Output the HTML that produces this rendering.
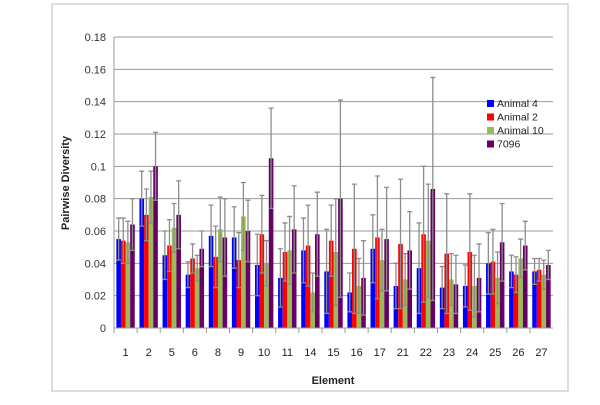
<!DOCTYPE html>
<html><head><meta charset="utf-8"><style>
body{margin:0;background:#fff;font-family:"Liberation Sans",sans-serif}
</style></head><body>
<svg id="chart" width="600" height="400" xmlns="http://www.w3.org/2000/svg">
<rect x="52" y="4" width="516" height="387" fill="#fff" stroke="#bbb"/>
<g id="grid"></g><g id="bars"></g><g id="errs"></g><g id="axes"></g>
<text transform="translate(69,183) rotate(-90)" text-anchor="middle" font-size="11" font-weight="bold" fill="#222">Pairwise Diversity</text>
<text x="333" y("") y="384" text-anchor="middle" font-size="11" font-weight="bold" fill="#222">Element</text>
<g id="legend"></g>
</svg>
<script>
const categories=["1","2","5","6","8","9","10","11","14","15","16","17","21","22","23","24","25","26","27"];
const seriesNames=["Animal 4","Animal 2","Animal 10","7096"];
const colors=["#0000ff","#ff0000","#9bbb59","#660066"];
const animal4=[.055,.080,.045,.033,.057,.056,.039,.031,.048,.035,.022,.049,.026,.037,.025,.026,.040,.035,.035];
const animal2=[.054,.070,.051,.043,.044,.042,.058,.047,.051,.054,.049,.056,.052,.058,.046,.047,.041,.033,.036];
const animal10=[.053,.081,.062,.037,.061,.069,.040,.048,.022,.047,.026,.042,.030,.054,.030,.026,.031,.043,.033];
const s7096=[.064,.100,.070,.049,.056,.060,.105,.061,.058,.080,.031,.055,.048,.086,.027,.031,.053,.051,.039];
const err4=[.013,.017,.015,.008,.019,.019,.019,.018,.020,.026,.012,.021,.014,.028,.013,.013,.019,.010,.008];
const err2=[.014,.016,.016,.009,.019,.017,.024,.018,.025,.022,.040,.038,.040,.042,.037,.036,.020,.011,.007];
const err10=[.013,.016,.015,.008,.020,.021,.014,.021,.012,.033,.017,.019,.016,.035,.016,.019,.016,.012,.009];
const err7096=[.016,.021,.021,.011,.024,.019,.031,.027,.026,.061,.023,.032,.024,.069,.018,.021,.024,.015,.009];
const yTicks=[0,0.02,0.04,0.06,0.08,0.1,0.12,0.14,0.16,0.18];
const yTickLabels=["0","0.02","0.04","0.06","0.08","0.1","0.12","0.14","0.16","0.18"];
const series=[animal4,animal2,animal10,s7096], errs=[err4,err2,err10,err7096];
const X0=114,X1=553,Y0=328,Y1=37,YMAX=0.18;
const gw=(X1-X0)/categories.length;
const y=v=>Y0-(v/YMAX)*(Y0-Y1);
const NS="http://www.w3.org/2000/svg";
function mk(parent,tag,attrs){const e=document.createElementNS(NS,tag);for(const k in attrs)e.setAttribute(k,attrs[k]);document.getElementById(parent).appendChild(e);return e;}
yTicks.forEach((t,i)=>{
  if(i>0){const g=mk('grid','line',{x1:X0,x2:X1,y1:y(t),y2:y(t),stroke:'#999','stroke-width':1});
  
  }
  const l=mk('axes','text',{x:X0-8,y:y(t)+4,'text-anchor':'end','font-size':11,fill:'#333'});
  l.textContent=yTickLabels[i];
  
  
});
const bw=4.6;
categories.forEach((c,ci)=>{
  const gx=X0+ci*gw+(gw-4*bw)/2;
  series.forEach((s,si)=>{
    const v=s[ci],bx=gx+si*bw;
    const r=mk('bars','rect',{x:bx,y:y(v),width:bw,height:Y0-y(v),fill:colors[si]});
    
    
    const e=errs[si][ci],cx=bx+bw/2;
    const el=mk('errs','path',{d:`M${cx},${y(v+e)}V${y(Math.max(0,v-e))}M${cx-2.5},${y(v+e)}h5M${cx-2.5},${y(Math.max(0,v-e))}h5`,stroke:'#8c8c8c','stroke-width':1.3,fill:'none'});
    
    
  });
  const t=mk('axes','text',{x:X0+ci*gw+gw/2,y:356,'text-anchor':'middle','font-size':11,fill:'#222'});
  t.textContent=c;
  
  
  const tk=mk('axes','line',{x1:X0+ci*gw,x2:X0+ci*gw,y1:Y0,y2:Y0+5,stroke:'#999'});
  
  
});
const ya=mk('axes','line',{x1:X0,x2:X0,y1:Y1,y2:Y0,stroke:'#999'});


const xa=mk('axes','line',{x1:X0,x2:X1,y1:Y0,y2:Y0,stroke:'#999'});


seriesNames.forEach((n,i)=>{
  const r=mk('legend','rect',{x:487,y:100+i*13.5,width:7,height:7,fill:colors[i]});
  
  
  const t=mk('legend','text',{x:497,y:107+i*13.5,'font-size':10.5,fill:'#222'});
  t.textContent=n;
  
  
});
</script>
</body></html>
